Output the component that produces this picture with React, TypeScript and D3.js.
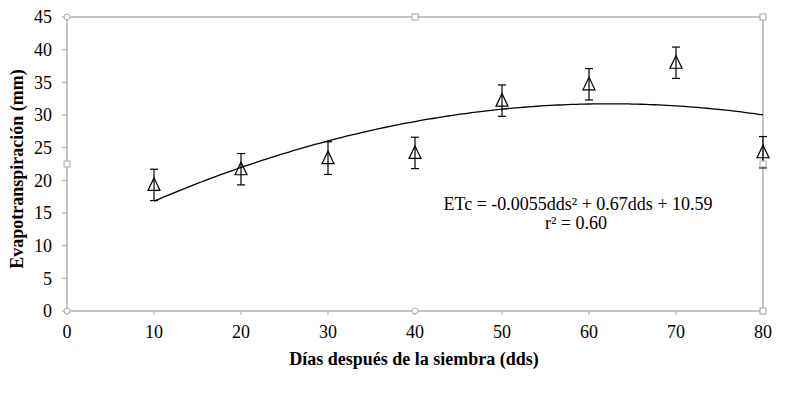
import React from "react";
import * as d3 from "d3";

const days = [10, 20, 30, 40, 50, 60, 70, 80];
const etc = [19.3, 21.7, 23.4, 24.2, 32.2, 34.7, 38.0, 24.3];
const errs = [2.4, 2.4, 2.5, 2.4, 2.4, 2.4, 2.4, 2.4];
const xTicks = [0, 10, 20, 30, 40, 50, 60, 70, 80];
const yTicks = [0, 5, 10, 15, 20, 25, 30, 35, 40, 45];
const eqLines = ["ETc = -0.0055dds² + 0.67dds + 10.59", "r² = 0.60"];

// least squares quadratic fit, like the excel trend line
function polyFit(xs: number[], ys: number[]) {
  const s = (f: (x: number, y: number) => number) =>
    d3.sum(xs.map((x, i) => f(x, ys[i])));
  const n = xs.length;
  const sx = s(x => x), sx2 = s(x => x * x), sx3 = s(x => x ** 3), sx4 = s(x => x ** 4);
  const sy = s((x, y) => y), sxy = s((x, y) => x * y), sx2y = s((x, y) => x * x * y);
  const M = [
    [sx4, sx3, sx2, sx2y],
    [sx3, sx2, sx, sxy],
    [sx2, sx, n, sy],
  ];
  for (let i = 0; i < 3; i++) {
    for (let j = i + 1; j < 3; j++) {
      const f = M[j][i] / M[i][i];
      for (let k = i; k < 4; k++) M[j][k] -= f * M[i][k];
    }
  }
  const r = [0, 0, 0];
  for (let i = 2; i >= 0; i--) {
    let v = M[i][3];
    for (let k = i + 1; k < 3; k++) v -= M[i][k] * r[k];
    r[i] = v / M[i][i];
  }
  return (x: number) => r[0] * x * x + r[1] * x + r[2];
}

const App: React.FC = () => {
  const width = 787;
  const height = 398;
  const left = 67, right = 763, top = 17, bottom = 311;
  const grey = "#a6a6a6";
  const font = "Liberation Serif";

  const x = d3.scaleLinear().domain([0, 80]).range([left, right]);
  const y = d3.scaleLinear().domain([0, 45]).range([bottom, top]);

  const fit = polyFit(days, etc);
  const line = d3.line<number>().x(d => x(d)).y(d => y(fit(d)));
  const trend = line(d3.range(days[0], days[days.length - 1] + 0.01, 0.5)) || "";

  const mx = (left + right) / 2, my = (top + bottom) / 2;
  const circles = [[left, top], [left, bottom], [mx, bottom]];
  const squares = [[mx, top], [right, top], [left, my], [right, my], [right, bottom]];

  const txt = { fontFamily: font, fontSize: "18px" };
  const bold = { fontFamily: font, fontSize: "18px", fontWeight: "bold" as const };

  return (
    <svg width={width} height={height} style={{ position: "absolute", left: 0, top: 0 }}>
      <rect width={width} height={height} fill="#fff" />
      <rect x={left} y={top} width={right - left} height={bottom - top}
        fill="none" stroke={grey} strokeWidth={1.3} />

      {yTicks.map(d => (
        <g key={"y" + d}>
          <line x1={left - 5} x2={left} y1={y(d)} y2={y(d)} stroke={grey} />
          <text x={left - 15} y={y(d)} dy="0.35em" textAnchor="end" style={txt}>{d}</text>
        </g>
      ))}
      {xTicks.map(d => (
        <g key={"x" + d}>
          <line x1={x(d)} x2={x(d)} y1={bottom} y2={bottom + 4} stroke={grey} />
          <text x={x(d)} y={bottom + 27} textAnchor="middle" style={txt}>{d}</text>
        </g>
      ))}

      <path d={trend} fill="none" stroke="#000" strokeWidth={1.3} />

      {days.map((d, i) => {
        const cx = x(d);
        const hi = y(etc[i] + errs[i]);
        const lo = y(etc[i] - errs[i]);
        return (
          <g key={"p" + d} stroke="#000" strokeWidth={1.2} fill="none">
            <line x1={cx} x2={cx} y1={hi} y2={lo} />
            <line x1={cx - 4} x2={cx + 4} y1={hi} y2={hi} />
            <line x1={cx - 4} x2={cx + 4} y1={lo} y2={lo} />
            <path transform={`translate(${cx},${y(etc[i])})`} d="M0,-7L6,5.5L-6,5.5Z" />
          </g>
        );
      })}

      <text x={578} y={210} textAnchor="middle" style={txt}>{eqLines[0]}</text>
      <text x={576} y={229} textAnchor="middle" style={txt}>{eqLines[1]}</text>

      <text x={414} y={365} textAnchor="middle" style={bold}>
        Días después de la siembra (dds)
      </text>
      <text transform={`translate(23, 169) rotate(-90)`} textAnchor="middle" style={bold}>
        Evapotranspiración (mm)
      </text>

      {circles.map((d, i) => (
        <circle key={"c" + i} cx={d[0]} cy={d[1]} r={3} fill="#fff" stroke={grey} />
      ))}
      {squares.map((d, i) => (
        <rect key={"s" + i} x={d[0] - 3} y={d[1] - 3} width={6} height={6} fill="#fff" stroke={grey} />
      ))}
    </svg>
  );
};

export default App;
